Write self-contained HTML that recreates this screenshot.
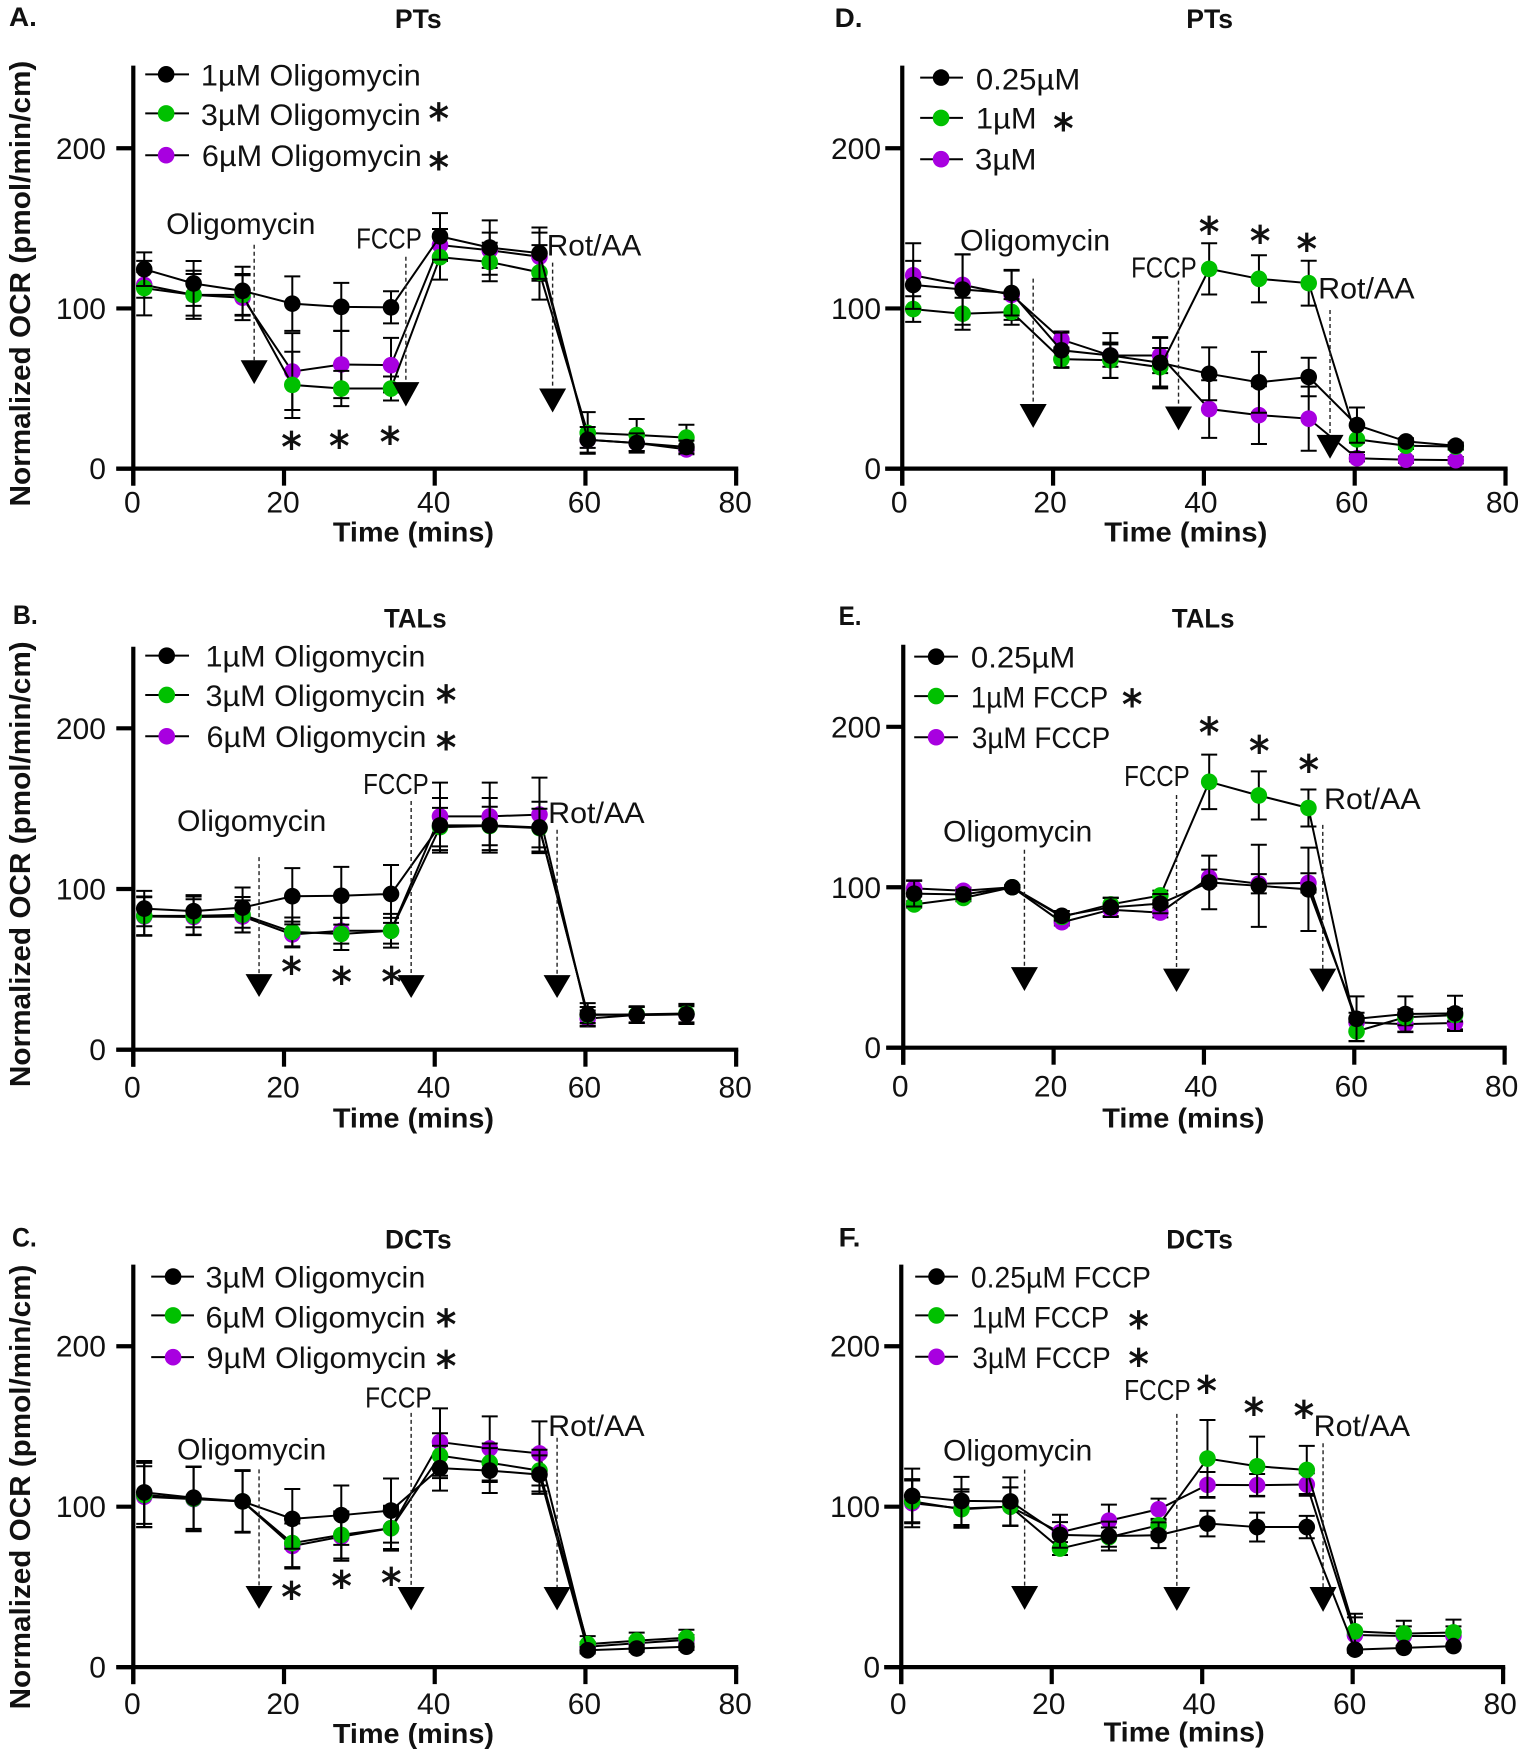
<!DOCTYPE html>
<html lang="en">
<head>
<meta charset="utf-8">
<title>Normalized OCR dose responses</title>
<style>
html,body{margin:0;padding:0;background:#fff;}
svg{display:block;}
text{fill:#111;}
</style>
</head>
<body>
<svg id="figure" xmlns="http://www.w3.org/2000/svg" width="1525" height="1755" viewBox="0 0 1525 1755"></svg>
<script>
// ---- shared axis data ----
const times = [1.45, 8, 14.5, 21.1, 27.6, 34.2, 40.7, 47.3, 53.9, 60.3, 66.8, 73.4];
const xTicks = [0, 20, 40, 60, 80];
const yTicks = [0, 100, 200];

// ---- panel A ----
const aLabels = ['1µM Oligomycin', '3µM Oligomycin', '6µM Oligomycin'];
const aBlackMean = [124.5, 115.6, 111, 103, 101, 100.7, 145, 138, 134.5, 18, 16, 13.5];
const aBlackErr = [10.5, 14, 15, 17, 15, 10, 14.5, 17, 16, 8, 6, 4];
const aGreenMean = [112.7, 108.5, 108.5, 52.3, 50, 50, 132, 129, 122.5, 22.3, 21, 19.4];
const aGreenErr = [17, 15, 13, 20.7, 11, 7.5, 14, 12, 17, 13, 10, 8];
const aPurpleMean = [114.7, 108.5, 106.7, 60.6, 65, 64.6, 139.6, 136.3, 132.3, 18, 16, 12];
const aPurpleErr = [8, 13, 14, 24, 21, 17, 10, 11, 15, 5, 5, 3];

// ---- panel B ----
const bLabels = ['1µM Oligomycin', '3µM Oligomycin', '6µM Oligomycin'];
const bBlackMean = [87.8, 86.2, 88.4, 95.5, 95.8, 96.9, 139.6, 139.6, 138.3, 22, 21.6, 22];
const bBlackErr = [11, 10, 12.5, 17.5, 18, 18, 17, 17, 16, 7, 5, 6];
const bGreenMean = [83.3, 83.3, 84, 73.3, 72, 74, 138.5, 139.2, 137.9, 21.6, 22, 22.5];
const bGreenErr = [12, 12, 11, 9, 10, 10.5, 12, 12, 12, 5, 5, 6];
const bPurpleMean = [82.9, 82.6, 82.9, 71.7, 74, 74, 145.2, 145.2, 146.3, 19.4, 21.6, 22];
const bPurpleErr = [12, 11, 10, 8, 8, 8, 21, 21, 23, 5, 5, 5];

// ---- panel C ----
const cLabels = ['3µM Oligomycin', '6µM Oligomycin', '9µM Oligomycin'];
const cBlackMean = [108.9, 105.6, 103.3, 92.4, 94.7, 97.6, 124, 122.5, 120, 10.5, 11.6, 12.7];
const cBlackErr = [19.6, 19.4, 19.5, 18.6, 18.5, 20, 14, 14, 12, 2, 2, 2];
const cGreenMean = [107.3, 105, 103.3, 77.3, 82.4, 86.6, 131.8, 127.4, 122.5, 14.3, 16.5, 18.3];
const cGreenErr = [20, 20, 19, 15, 14.7, 13, 14, 12, 13, 5, 5, 5];
const cPurpleMean = [106.2, 104.7, 103.3, 75.5, 81.3, 86.6, 140.3, 136.3, 133.2, 12.7, 14.9, 17];
const cPurpleErr = [19, 20, 19, 14, 15, 14, 21, 20, 20, 3, 3, 3];

// ---- panel D ----
const dLabels = ['0.25µM', '1µM', '3µM'];
const dBlackMean = [114.7, 111.8, 109.6, 73.9, 70.6, 66.1, 59.2, 53.9, 57.2, 27.2, 17, 14.3];
const dBlackErr = [15, 22, 14, 11, 14, 16, 16.5, 19, 12, 11, 2, 2];
const dGreenMean = [99.6, 96.7, 97.8, 68.4, 67.7, 63.3, 124.7, 118.5, 115.8, 18.3, 14.3, 13.8];
const dGreenErr = [8, 10, 8, 5, 11, 12, 16, 14.7, 14, 8, 2, 2];
const dPurpleMean = [120.7, 114.7, 108.5, 80.6, 70.6, 70.6, 37.2, 33.4, 31.2, 6.5, 5.6, 5.3];
const dPurpleErr = [20, 19, 15.6, 5, 7, 11, 18, 18, 20, 2, 2, 2];

// ---- panel E ----
const eLabels = ['0.25µM', '1µM FCCP', '3µM FCCP'];
const eBlackMean = [96, 95.5, 100, 82.2, 87.5, 89.8, 103, 100.9, 98.7, 18, 21, 21.4];
const eBlackErr = [8, 3, 1.5, 3, 6, 6, 16.7, 25.6, 26, 14, 11, 11];
const eGreenMean = [89.3, 93.3, 100, 81.5, 89.3, 94.9, 165.7, 157.2, 149.4, 10.2, 19, 20.3];
const eGreenErr = [2, 2, 1, 2, 4, 3, 17, 15, 11.5, 6, 5, 4];
const ePurpleMean = [99.3, 97.8, 100, 78.2, 86, 84.2, 106, 102.2, 102.7, 15.8, 14.7, 15.4];
const ePurpleErr = [5, 2, 1, 2, 4, 3, 5, 6, 6, 6, 5, 4];

// ---- panel F ----
const fLabels = ['0.25µM FCCP', '1µM FCCP', '3µM FCCP'];
const fBlackMean = [106.7, 103.6, 103.3, 82.4, 81.7, 82.2, 89.5, 87.3, 87.3, 10.9, 12, 13.1];
const fBlackErr = [17, 15, 15, 8, 9, 8, 8, 9, 7, 1, 1, 1];
const fGreenMean = [103.3, 98.4, 100, 73.9, 81, 88.4, 130, 125.2, 122.9, 22.3, 20.9, 21.6];
const fGreenErr = [13, 11, 12, 4, 6, 4, 24, 18.5, 15, 11, 8, 8];
const fPurpleMean = [102.2, 98.9, 100, 84, 91.3, 98.4, 113.6, 113.4, 113.8, 20, 19.4, 19.4];
const fPurpleErr = [15, 12, 12, 11, 10, 6.6, 8, 7, 7, 11, 6, 6];

// ---- layout (pixels, separate from the data) ----
const BLACK = '#000000', GREEN = '#00c000', PURPLE = '#a800e0';
const KX = 0.9948, KY = 0.995;
const panels = [
  { id:'a', origin:[0,0], letter:'A.', letterPos:[9,26,28], title:'PTs', titlePos:[397,28,47],
    x0:134, x80:740, y0:471, y200:149, top:66, yLabelRight:106.5, xLabelY:515, xLabelDx:-1,
    xTitle:[334.6,544,162], yTitle:[509,448],
    labels:aLabels, legendX:[146,190,167],
    legendRows:[[74.7,202,86,221],[114,202,125.6,221],[156,203,167,221]], legendStars:[[441,112],[441,161.5]],
    oligo:[167,235,150], fccp:[358,249.5,66], rot:[549.6,256.6,95],
    arrows:[[255.5,246,362,386],[408,258,384,408.5],[555.5,264,390.5,414.6]],
    stars:[[293,442],[341,441],[392,437]],
    black:[aBlackMean,aBlackErr], green:[aGreenMean,aGreenErr], purple:[aPurpleMean,aPurpleErr] },
  { id:'b', origin:[0,590], letter:'B.', letterPos:[13,624,25], title:'TALs', titlePos:[386,627.7,63],
    x0:134, x80:740, y0:1052, y200:729, top:647, yLabelRight:106.5, xLabelY:1100, xLabelDx:-1,
    xTitle:[334.6,1130,162], yTitle:[1089.6,448],
    labels:bLabels, legendX:[146,190,167.6],
    legendRows:[[656,206.6,667,221],[695.5,206.6,706.7,221],[737,207.6,748,221]], legendStars:[[448.5,694],[448.5,741.5]],
    oligo:[178,832,150], fccp:[365,795,66], rot:[551,824,97],
    arrows:[[260.4,858.5,976,999],[413.3,802,977,1000],[560,831,977,1000]],
    stars:[[293,967],[343.4,977],[393.7,977]],
    black:[bBlackMean,bBlackErr], green:[bGreenMean,bGreenErr], purple:[bPurpleMean,bPurpleErr] },
  { id:'c', origin:[0,1195], letter:'C.', letterPos:[12,1247,25], title:'DCTs', titlePos:[387,1249,67],
    x0:134, x80:740, y0:1669.5, y200:1347, top:1265, yLabelRight:106.5, xLabelY:1716.5, xLabelDx:-1,
    xTitle:[334.6,1746,162], yTitle:[1712,447],
    labels:cLabels, legendX:[152,195,174],
    legendRows:[[1277,206.6,1288,221],[1316,206.6,1328,221],[1358,207.6,1369,221]], legendStars:[[448.5,1318],[448.5,1360]],
    oligo:[178,1461,150], fccp:[367,1408.6,67], rot:[551,1437,97],
    arrows:[[260.4,1470.7,1588,1611],[413.3,1414,1589,1612.5],[560,1439,1589,1612.5]],
    stars:[[293,1592],[343.4,1581],[393.3,1578]],
    black:[cBlackMean,cBlackErr], green:[cGreenMean,cGreenErr], purple:[cPurpleMean,cPurpleErr] },
  { id:'d', origin:[762,0], letter:'D.', letterPos:[835,27,28], title:'PTs', titlePos:[1188.5,28,47],
    x0:903, x80:1509.4, y0:471, y200:149, top:66, yLabelRight:881.7, xLabelY:515, xLabelDx:-3,
    xTitle:[1106,544,164], yTitle:null,
    labels:dLabels, legendX:[921,964,942],
    legendRows:[[78,977,90,105],[118.5,977,129,61],[160,976,170.5,62]], legendStars:[[1065,122]],
    oligo:[961,252,151], fccp:[1133,279,66], rot:[1321,300,97],
    arrows:[[1034.6,280,406,430],[1180.7,282,408.5,432.5],[1333,311.5,437,461]],
    stars:[[1211.4,226],[1262.7,235],[1309.6,243]],
    black:[dBlackMean,dBlackErr], green:[dGreenMean,dGreenErr], purple:[dPurpleMean,dPurpleErr] },
  { id:'e', origin:[762,590], letter:'E.', letterPos:[839,625,23], title:'TALs', titlePos:[1174,627.7,63],
    x0:904, x80:1508.5, y0:1050, y200:727.5, top:645, yLabelRight:881.7, xLabelY:1099, xLabelDx:-3,
    xTitle:[1104,1130,163], yTitle:null,
    labels:eLabels, legendX:[915,959,937],
    legendRows:[[657,972,668,105],[696.6,972,708,138],[738,973,749,139]], legendStars:[[1134,698]],
    oligo:[944,843,150], fccp:[1126,787,66], rot:[1327,810,97],
    arrows:[[1025.8,851,969,993],[1178.7,796,970.5,994],[1325.7,826,970.5,994]],
    stars:[[1211.4,726],[1261.8,745],[1311.6,764]],
    black:[eBlackMean,eBlackErr], green:[eGreenMean,eGreenErr], purple:[ePurpleMean,ePurpleErr] },
  { id:'f', origin:[762,1195], letter:'F.', letterPos:[839,1247,22], title:'DCTs', titlePos:[1168.4,1249,67],
    x0:902, x80:1507, y0:1669.5, y200:1347, top:1265, yLabelRight:880.7, xLabelY:1716.5, xLabelDx:-3,
    xTitle:[1105.4,1744,162], yTitle:null,
    labels:fLabels, legendX:[916,959,937.4],
    legendRows:[[1277,972,1288,181],[1316,973,1328,138],[1357.6,973.5,1369,139]], legendStars:[[1140.6,1320],[1140.6,1358]],
    oligo:[944,1462,150], fccp:[1126,1401,67], rot:[1316.5,1437,97],
    arrows:[[1026,1471,1588,1612],[1179,1415,1589,1613],[1326,1444.5,1589,1614]],
    stars:[[1209,1385],[1256.4,1407],[1306.7,1410]],
    black:[fBlackMean,fBlackErr], green:[fGreenMean,fGreenErr], purple:[fPurpleMean,fPurpleErr] }
];

// Layout numbers above were measured on a slightly stretched crop: correct them here.
function calibrate(p) {
  const ox = p.origin[0], oy = p.origin[1];
  const fx = function (v) { return ox + (v - ox) * KX; };
  const fy = function (v) { return oy + (v - oy) * KY; };
  p.x0 = fx(p.x0); p.x80 = fx(p.x80); p.yLabelRight = fx(p.yLabelRight);
  p.y0 = fy(p.y0); p.y200 = fy(p.y200); p.top = fy(p.top); p.xLabelY = fy(p.xLabelY);
  [p.letterPos, p.titlePos, p.xTitle, p.oligo, p.fccp, p.rot].forEach(function (a) {
    a[0] = fx(a[0]); a[1] = fy(a[1]); a[2] = a[2] * KX;
  });
  if (p.yTitle) { p.yTitle[0] = fy(p.yTitle[0]); p.yTitle[1] = p.yTitle[1] * KY; }
  p.legendX = p.legendX.map(fx);
  p.legendRows.forEach(function (r) { r[0] = fy(r[0]); r[1] = fx(r[1]); r[2] = fy(r[2]); r[3] = r[3] * KX; });
  p.legendStars.forEach(function (s) { s[0] = fx(s[0]); s[1] = fy(s[1]); });
  p.stars.forEach(function (s) { s[0] = fx(s[0]); s[1] = fy(s[1]); });
  p.arrows.forEach(function (a) { a[0] = fx(a[0]); a[1] = fy(a[1]); a[2] = fy(a[2]); a[3] = fy(a[3]); });
}

const SVGNS = 'http://www.w3.org/2000/svg';
const root = document.getElementById('figure');

function make(tag, attrs, parent) {
  const node = document.createElementNS(SVGNS, tag);
  for (const k in attrs) node.setAttribute(k, attrs[k]);
  parent.appendChild(node);
  return node;
}
function makeText(str, x, y, size, parent, opts) {
  const o = opts || {};
  const attrs = { x: x, y: y, 'font-size': size,
    'font-family': o.family || '"Liberation Sans", sans-serif',
    'font-weight': o.weight || 'normal', 'text-anchor': o.anchor || 'start' };
  if (o.len) { attrs.textLength = o.len; attrs.lengthAdjust = 'spacingAndGlyphs'; }
  if (o.transform) attrs.transform = o.transform;
  const node = make('text', attrs, parent);
  node.textContent = str;
  return node;
}
function drawStar(cx, cy, parent) {
  const star = makeText('*', cx, cy + 21, 40, parent, { family: '"DejaVu Sans", sans-serif', anchor: 'middle' });
  star.setAttribute('stroke', '#111');
  star.setAttribute('stroke-width', '1');
  
  
}
function drawSeries(p, g, key, color, sx, sy, label) {
  const mean = p[key][0], err = p[key][1];
  const sg = make('g', {}, g);
  
  
  mean.forEach(function (v, i) {
    const x = sx(times[i]), hi = sy(v + err[i]), lo = sy(v - err[i]);
    const bar = make('path', { d: 'M' + x + ' ' + hi + 'V' + lo + 'M' + (x - 8) + ' ' + hi + 'H' + (x + 8) + 'M' + (x - 8) + ' ' + lo + 'H' + (x + 8),
      stroke: '#000', 'stroke-width': 2, fill: 'none' }, sg);
    
    
  });
  const pts = mean.map(function (v, i) { return sx(times[i]) + ',' + sy(v); }).join(' ');
  const line = make('polyline', { points: pts, fill: 'none', stroke: '#000', 'stroke-width': 2 }, sg);
  
  
  mean.forEach(function (v, i) {
    const dot = make('circle', { cx: sx(times[i]), cy: sy(v), r: 8.3, fill: color }, sg);
    
    
  });
}
function drawPanel(p) {
  calibrate(p);
  const g = make('g', {}, root);
  
  
  const sx = function (t) { return p.x0 + (p.x80 - p.x0) * t / 80; };
  const sy = function (v) { return p.y0 - (p.y0 - p.y200) * v / 200; };

  const letter = makeText(p.letter, p.letterPos[0], p.letterPos[1], 27, g, { weight: 'bold', len: p.letterPos[2] });
  
  
  const title = makeText(p.title, p.titlePos[0], p.titlePos[1], 27, g, { weight: 'bold', len: p.titlePos[2] });
  
  

  // axes
  const yAxis = make('line', { x1: p.x0, x2: p.x0, y1: p.top, y2: p.y0 + 17, stroke: '#000', 'stroke-width': 4.2 }, g);
  
  
  const xAxis = make('line', { x1: p.x0 - 17, x2: p.x80 + 2.1, y1: p.y0, y2: p.y0, stroke: '#000', 'stroke-width': 4.2 }, g);
  
  
  xTicks.forEach(function (t) {
    const tick = make('line', { x1: sx(t), x2: sx(t), y1: p.y0, y2: p.y0 + 17, stroke: '#000', 'stroke-width': 4.2 }, g);
    
    
    const lab = makeText(String(t), sx(t) + p.xLabelDx, p.xLabelY, 30, g, { anchor: 'middle' });
    
    
  });
  yTicks.forEach(function (v) {
    const tick = make('line', { x1: p.x0 - 17, x2: p.x0, y1: sy(v), y2: sy(v), stroke: '#000', 'stroke-width': 4.2 }, g);
    
    
    const lab = makeText(String(v), p.yLabelRight, sy(v) + 10.5, 30, g, { anchor: 'end' });
    
    
  });
  const xt = makeText('Time (mins)', p.xTitle[0], p.xTitle[1], 28, g, { weight: 'bold', len: p.xTitle[2] });
  
  
  if (p.yTitle) {
    const yt = makeText('Normalized OCR  (pmol/min/cm)', 0, 0, 29, g, { weight: 'bold', len: p.yTitle[1], transform: 'translate(30 ' + p.yTitle[0] + ') rotate(-90)' });
    yt.setAttribute('xml:space', 'preserve');
    
    
  }

  // series: purple first, black on top
  drawSeries(p, g, 'purple', PURPLE, sx, sy, p.labels[2]);
  drawSeries(p, g, 'green', GREEN, sx, sy, p.labels[1]);
  drawSeries(p, g, 'black', BLACK, sx, sy, p.labels[0]);

  // legend
  const legendColors = [BLACK, GREEN, PURPLE];
  p.labels.forEach(function (label, i) {
    const row = p.legendRows[i];
    const entry = make('g', {}, g);
    
    
    const ll = make('line', { x1: p.legendX[0], x2: p.legendX[1], y1: row[0], y2: row[0], stroke: '#000', 'stroke-width': 2 }, entry);
    
    
    const lm = make('circle', { cx: p.legendX[2], cy: row[0], r: 8.3, fill: legendColors[i] }, entry);
    
    
    const lt = makeText(label, row[1], row[2], 30, entry, { len: row[3] });
    
    
  });
  p.legendStars.forEach(function (s) { drawStar(s[0], s[1], g); });

  // treatment annotations
  const oligo = makeText('Oligomycin', p.oligo[0], p.oligo[1], 30, g, { len: p.oligo[2] });
  
  
  const fccp = makeText('FCCP', p.fccp[0], p.fccp[1], 29, g, { len: p.fccp[2] });
  
  
  const rot = makeText('Rot/AA', p.rot[0], p.rot[1], 30, g, { len: p.rot[2] });
  
  
  p.arrows.forEach(function (a) {
    const dash = make('line', { x1: a[0], x2: a[0], y1: a[1], y2: a[2], stroke: '#222', 'stroke-width': 1.4, 'stroke-dasharray': '4 3' }, g);
    
    
    const tri = make('polygon', { points: (a[0] - 13.5) + ',' + a[2] + ' ' + (a[0] + 13.5) + ',' + a[2] + ' ' + a[0] + ',' + a[3], fill: '#000' }, g);
    
    
  });
  p.stars.forEach(function (s) { drawStar(s[0], s[1], g); });
}
panels.forEach(drawPanel);
</script>
</body>
</html>
